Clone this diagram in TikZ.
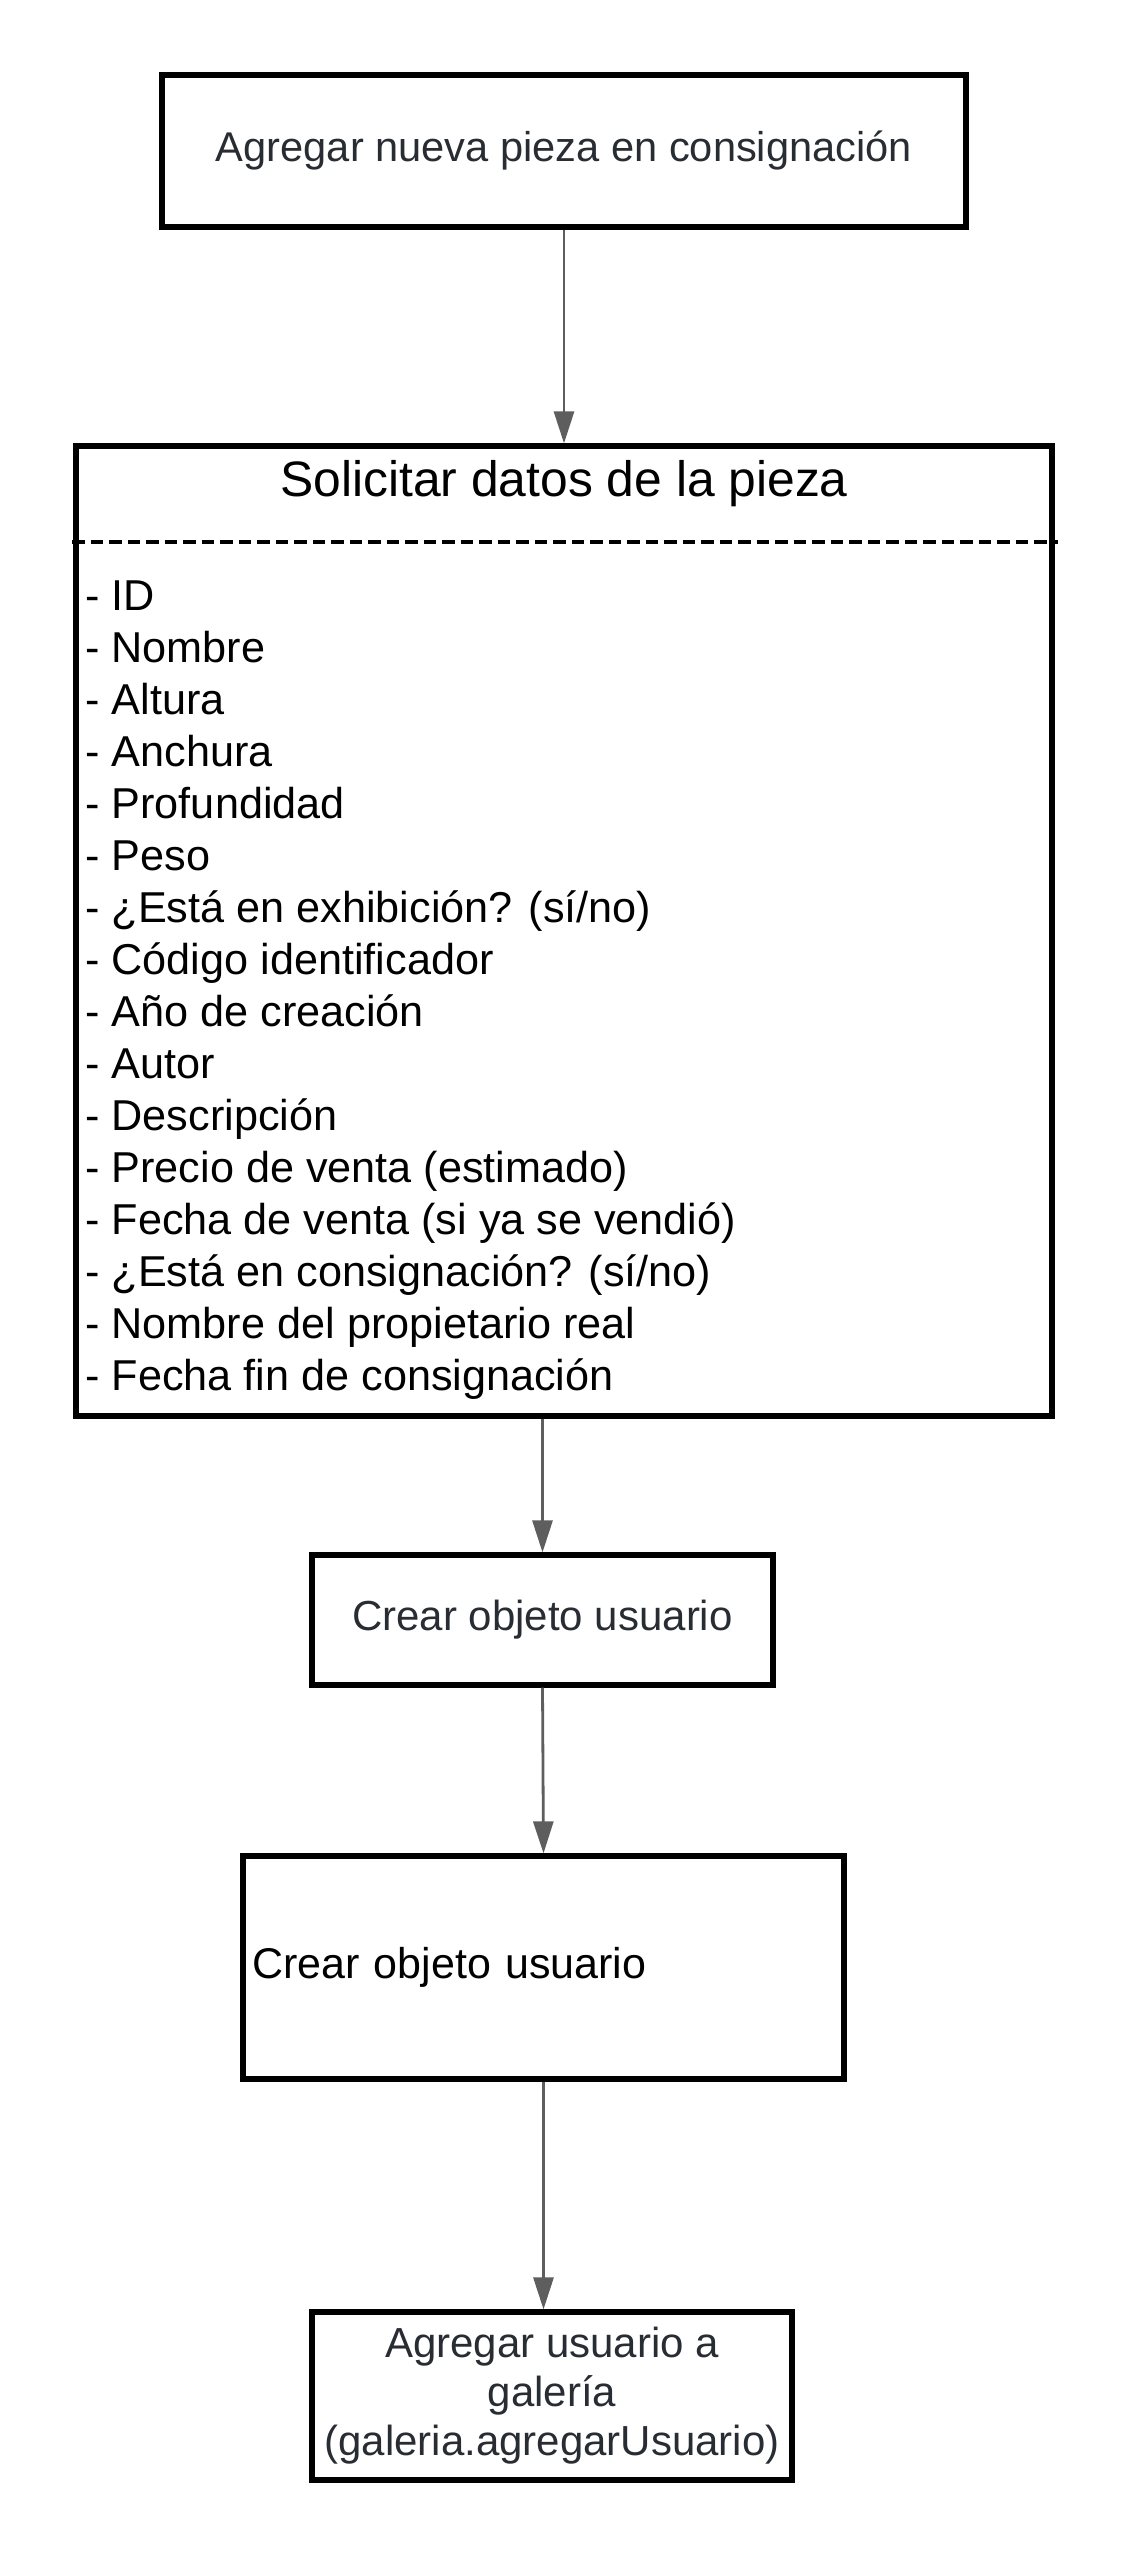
\documentclass[tikz,border=0pt]{standalone}
\usepackage{fontspec}
\setmainfont{Liberation Sans}
\usetikzlibrary{arrows.meta}
\definecolor{txtgris}{HTML}{282C33}
\definecolor{flecha}{HTML}{5E5E5E}
\tikzset{
	caja/.style={draw=black, line width=2.6pt, inner sep=0pt},
	letra/.style={font=\fontsize{21pt}{24.5pt}\selectfont},
	lista/.style={font=\fontsize{21.6pt}{26pt}\selectfont},
	flujo/.style={draw=flecha, line width=1.4pt, -{Triangle[length=16pt,width=10pt]}},
	separa/.style={draw=black, line width=1.75pt, dash pattern=on 6.25pt off 3pt},
}
\begin{document}
\begin{tikzpicture}[x=0.5pt,y=-0.5pt]
			\useasboundingbox (0,0) rectangle (1125,2558);
			\node[caja,font=\fontsize{20.8pt}{24.5pt}\selectfont,text=txtgris,minimum width=402pt,minimum height=76pt] (b1) at (564,151){Agregar nueva pieza en consignación};
			\node[caja,minimum width=488pt,minimum height=485pt] (b2) at (564,931){};
			\node[anchor=base,font=\fontsize{24.9pt}{28pt}\selectfont] (tit) at (564,496){Solicitar datos de la pieza};
			\coordinate (sl) at (72,542);
			\coordinate (sr) at (1058,542);
			\draw[separa] (sl) to (sr);
			\foreach\t [count=\i, evaluate=\i as \y using {610+52*(\i-1)}] in {- ID,- Nombre,- Altura,- Anchura,- Profundidad,- Peso,- ¿Está en exhibición? (sí/no),- Código identificador,- Año de creación,- Autor,- Descripción,- Precio de venta (estimado),- Fecha de venta (si ya se vendió),- ¿Está en consignación? (sí/no),- Nombre del propietario real,- Fecha fin de consignación}{
				\node[lista,anchor=base west,inner sep=0pt] (l\i) at (85,\y){\t};
			}
			\node[caja,letra,text=txtgris,minimum width=230.5pt,minimum height=65pt] (b3) at (542.5,1620){Crear objeto usuario};
			\node[caja,font=\fontsize{21.5pt}{25pt}\selectfont,text width=291.5pt,align=left,minimum width=300.5pt,minimum height=111.5pt] (b4) at (543.5,1967.5){Crear objeto usuario};
			\node[caja,letra,text=txtgris,align=center,minimum width=240pt,minimum height=84pt] (b5) at (552,2396){Agregar usuario a\\galería\\(galeria.agregarUsuario)};
%			\draw[flujo] (b1) to (b2);
			\draw[flujo] (b1.south) to (b2.north);
			\draw[flujo] (b2.south -| b3.north) to (b3.north);
			\draw[flujo] (b3.south) to (b4.north);
			\draw[flujo] (b4.south) to (b4.south |- b5.north);
		\end{tikzpicture}
\end{document}
